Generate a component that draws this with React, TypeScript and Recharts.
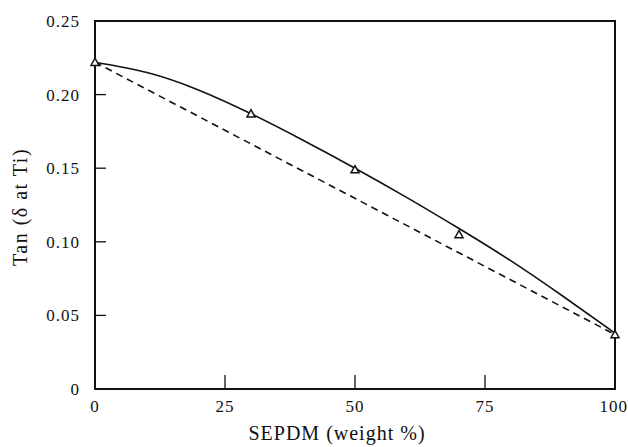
import React from 'react';
import {
    ComposedChart,
    Line,
    XAxis,
    YAxis,
    ReferenceArea,
} from 'recharts';

// SEPDM content (weight %)
const sepdm = [0, 10, 20, 30, 40, 50, 60, 70, 80, 90, 100];
// measured tan delta at Ti (triangles), null where no sample
const measured = [0.222, null, null, 0.187, null, 0.149, null, 0.105, null, null, 0.037];
// smooth fitted curve
const fitted = [0.222, 0.215, 0.203, 0.187, 0.169, 0.150, 0.130, 0.109, 0.087, 0.063, 0.038];
// additivity line between the pure components
const additive = [0.222, null, null, null, null, null, null, null, null, null, 0.037];

const xTicks = [0, 25, 50, 75, 100];
const yTicks = [0, 0.05, 0.1, 0.15, 0.2, 0.25];

const chartData = sepdm.map((x, i) => ({
    x,
    measured: measured[i],
    fitted: fitted[i],
    additive: additive[i],
}));

const FONT = '"Liberation Serif", "DejaVu Serif", serif';
const INK = '#111';

const Triangle = (props: any) => {
    const { cx, cy, value } = props;
    if (cx == null || cy == null || value == null) return null;
    const s = 4;
    return (
        <path
            d={`M${cx},${cy - s} L${cx + s},${cy + s * 0.8} L${cx - s},${cy + s * 0.8} Z`}
            fill="#fff"
            stroke={INK}
            strokeWidth={1.5}
        />
    );
};

const YTitle = () => (
    <text
        x={20}
        y={207}
        transform="rotate(-90 20 207)"
        textAnchor="middle"
        dominantBaseline="central"
        fontFamily={FONT}
        fontSize={20}
        letterSpacing={1.5}
        fill={INK}
    >
        Tan (δ at Ti)
    </text>
);

const XTitle = () => (
    <text
        x={337}
        y={433}
        textAnchor="middle"
        dominantBaseline="central"
        fontFamily={FONT}
        fontSize={20}
        letterSpacing={1}
        fill={INK}
    >
        SEPDM (weight %)
    </text>
);

export default function App() {
    return (
        <div style={{ position: 'absolute', left: 0, top: 0, background: '#fff' }}>
            <ComposedChart
                width={628}
                height={447}
                data={chartData}
                margin={{ top: 21, right: 13, left: 35, bottom: 18 }}
            >
                <XAxis
                    dataKey="x"
                    type="number"
                    domain={[0, 100]}
                    ticks={xTicks}
                    tickSize={-14}
                    tickMargin={25}
                    height={40}
                    axisLine={{ stroke: INK, strokeWidth: 2 }}
                    tickLine={{ stroke: INK, strokeWidth: 1.3 }}
                    tick={{ fill: INK, fontSize: 17, fontFamily: FONT, letterSpacing: 1 }}
                    label={{ content: () => <XTitle /> }}
                />
                <YAxis
                    type="number"
                    domain={[0, 0.25]}
                    ticks={yTicks}
                    tickFormatter={(v: number) => (v === 0 ? '0' : v.toFixed(2))}
                    tickSize={-11}
                    tickMargin={26}
                    width={60}
                    axisLine={{ stroke: INK, strokeWidth: 2 }}
                    tickLine={{ stroke: INK, strokeWidth: 1.3 }}
                    tick={{ fill: INK, fontSize: 17, fontFamily: FONT, letterSpacing: 1 }}
                    label={{ content: () => <YTitle /> }}
                />
                <ReferenceArea
                    x1={0}
                    x2={100}
                    y1={0}
                    y2={0.25}
                    fill="none"
                    stroke={INK}
                    strokeWidth={2}
                    ifOverflow="visible"
                />
                <Line
                    dataKey="additive"
                    type="linear"
                    stroke={INK}
                    strokeWidth={1.6}
                    strokeDasharray="7 5"
                    dot={false}
                    connectNulls
                    isAnimationActive={false}
                />
                <Line
                    dataKey="fitted"
                    type="natural"
                    stroke={INK}
                    strokeWidth={1.6}
                    dot={false}
                    isAnimationActive={false}
                />
                <Line
                    dataKey="measured"
                    stroke="none"
                    dot={<Triangle />}
                    activeDot={false}
                    isAnimationActive={false}
                />
            </ComposedChart>
        </div>
    );
}
